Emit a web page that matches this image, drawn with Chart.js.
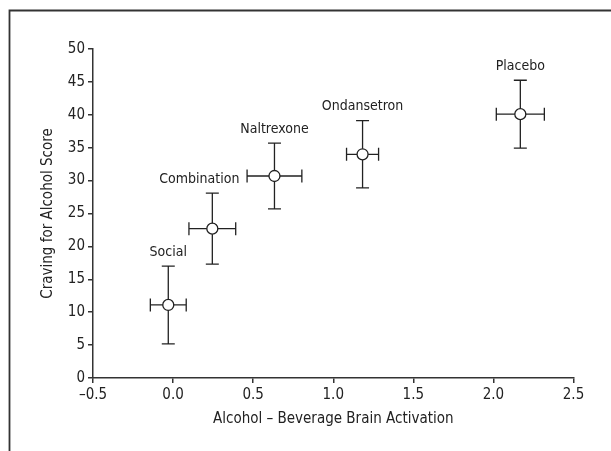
<!DOCTYPE html>
<html><head><meta charset="utf-8">
<script src="https://cdn.jsdelivr.net/npm/chart.js@4"></script>
<style>
html,body{margin:0;padding:0;background:#fff;overflow:hidden}
canvas{display:block}
</style></head><body>
<canvas id="c" width="611" height="451"></canvas>
<script>
const groups = ['Social', 'Combination', 'Naltrexone', 'Ondansetron', 'Placebo'];
const activation = [-0.03, 0.245, 0.633, 1.183, 2.168];
const activationErr = [0.112, 0.146, 0.171, 0.10, 0.15];
const craving = [11.1, 22.7, 30.7, 34.0, 40.1];
const cravingErr = [5.9, 5.4, 5.0, 5.1, 5.15];
const xTicks = [-0.5, 0, 0.5, 1.0, 1.5, 2.0, 2.5];
const yTicks = [0, 5, 10, 15, 20, 25, 30, 35, 40, 45, 50];
const xTitle = 'Alcohol \u2013 Beverage Brain Activation';
const yTitle = 'Craving for Alcohol Score';

const FONT = "'Liberation Sans Narrow', 'Arial Narrow', 'DejaVu Sans Condensed', sans-serif";
const INK = '#222';

const frame = {
  id: 'frame',
  beforeDraw(chart) {
    const ctx = chart.ctx;
    ctx.save();
    ctx.strokeStyle = '#333';
    ctx.lineWidth = 1.8;
    ctx.beginPath();
    ctx.moveTo(9.5, 460);
    ctx.lineTo(9.5, 10.5);
    ctx.lineTo(620, 10.5);
    ctx.stroke();
    ctx.restore();
  }
};

const errorBars = {
  id: 'errorBars',
  beforeDatasetsDraw(chart, args, opts) {
    const {ctx, scales: {x, y}} = chart;
    const cap = opts.cap;
    ctx.save();
    ctx.strokeStyle = INK;
    ctx.lineWidth = 1.3;
    activation.forEach((a, i) => {
      const px = x.getPixelForValue(a), py = y.getPixelForValue(craving[i]);
      const x0 = x.getPixelForValue(a - activationErr[i]);
      const x1 = x.getPixelForValue(a + activationErr[i]);
      const y0 = y.getPixelForValue(craving[i] - cravingErr[i]);
      const y1 = y.getPixelForValue(craving[i] + cravingErr[i]);
      ctx.beginPath();
      ctx.moveTo(x0, py); ctx.lineTo(x1, py);
      ctx.moveTo(px, y0); ctx.lineTo(px, y1);
      ctx.moveTo(x0, py - cap); ctx.lineTo(x0, py + cap);
      ctx.moveTo(x1, py - cap); ctx.lineTo(x1, py + cap);
      ctx.moveTo(px - cap, y0); ctx.lineTo(px + cap, y0);
      ctx.moveTo(px - cap, y1); ctx.lineTo(px + cap, y1);
      ctx.stroke();
    });
    ctx.restore();
  },
  afterDatasetsDraw(chart, args, opts) {
    const {ctx, scales: {x, y}} = chart;
    ctx.save();
    ctx.fillStyle = INK;
    ctx.font = opts.labelFont;
    ctx.textAlign = 'center';
    ctx.textBaseline = 'middle';
    groups.forEach((g, i) => {
      const px = x.getPixelForValue(activation[i]) + (opts.labelShift[g] || 0);
      const top = y.getPixelForValue(craving[i] + cravingErr[i]);
      ctx.fillText(g, px, top - opts.labelGap);
    });
    ctx.restore();
  }
};

new Chart(document.getElementById('c'), {
  type: 'scatter',
  data: {
    datasets: [{
      data: activation.map((a, i) => ({x: a, y: craving[i]})),
      pointRadius: 5.5,
      pointHoverRadius: 5.5,
      pointBackgroundColor: '#fff',
      pointBorderColor: INK,
      pointBorderWidth: 1.3,
      showLine: false
    }]
  },
  options: {
    responsive: false,
    animation: false,
    events: [],
    layout: {padding: {left: 0, top: 49, right: 37.5, bottom: 0}},
    plugins: {
      legend: {display: false},
      tooltip: {enabled: false},
      errorBars: {cap: 6.5, labelGap: 14, labelFont: "14px " + FONT, labelShift: {Combination: -13}}
    },
    scales: {
      x: {
        type: 'linear', min: -0.5, max: 2.5,
        afterBuildTicks: s => { s.ticks = xTicks.map(v => ({value: v})); },
        afterFit: s => { s.height = 73; },
        grid: {display: true, drawOnChartArea: false, drawTicks: true, tickLength: 5, color: '#333', lineWidth: 1.5},
        border: {display: true, color: '#333', width: 1.5},
        ticks: {
          color: INK, padding: 3, maxRotation: 0, autoSkip: false,
          font: {family: FONT, size: 15},
          callback: v => (v < 0 ? '\u2013' : '') + Math.abs(v).toFixed(1)
        },
        title: {display: true, text: xTitle, color: INK, font: {family: FONT, size: 15}, padding: {top: 23, bottom: 23}}
      },
      y: {
        type: 'linear', min: 0, max: 50,
        afterBuildTicks: s => { s.ticks = yTicks.map(v => ({value: v})); },
        afterFit: s => { s.width = 93; },
        grid: {display: true, drawOnChartArea: false, drawTicks: true, tickLength: 5, color: '#333', lineWidth: 1.5},
        border: {display: true, color: '#333', width: 1.5},
        ticks: {color: INK, padding: 3, autoSkip: false, font: {family: FONT, size: 15}},
        title: {display: true, text: yTitle, color: INK, font: {family: FONT, size: 15}, padding: {top: 39.5, bottom: 39.5}}
      }
    }
  },
  plugins: [frame, errorBars]
});
</script>
</body></html>
